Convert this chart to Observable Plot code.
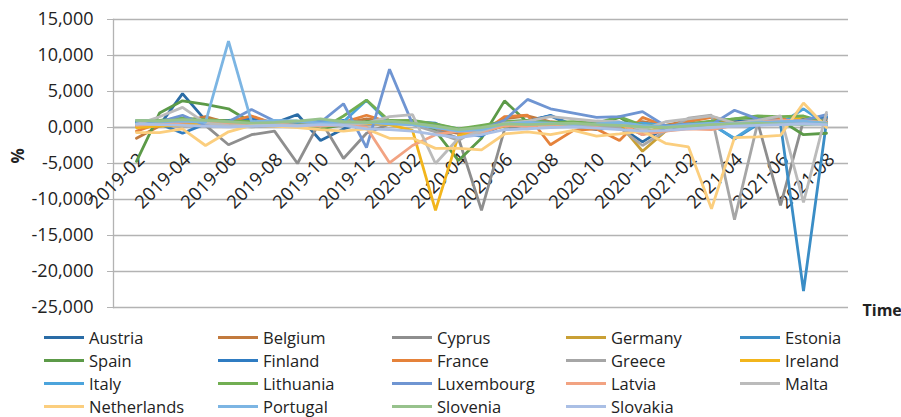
<!DOCTYPE html>
<html>
<head>
<meta charset="utf-8">
<script src="https://cdn.jsdelivr.net/npm/d3@7"></script>
<script src="https://cdn.jsdelivr.net/npm/@observablehq/plot@0.6"></script>
<style>
  html, body { margin: 0; padding: 0; background: #fff; }
  #wrap { position: relative; width: 901px; height: 417px; overflow: hidden; font-family: "Open Sans", sans-serif; }
  #legend { position: absolute; left: 44px; top: 326px; display: grid; grid-template-columns: repeat(5, 174px); grid-auto-rows: 23px; }
  .item { display: flex; align-items: center; font-size: 16.5px; color: #222; white-space: nowrap; }
  .sw { width: 40px; height: 3px; margin-right: 5px; flex: none; }
</style>
</head>
<body>
<div id="wrap"><div id="chart"></div><div id="legend"></div></div>
<script>
const months = ["2019-02","2019-03","2019-04","2019-05","2019-06","2019-07","2019-08","2019-09","2019-10","2019-11","2019-12",
  "2020-01","2020-02","2020-03","2020-04","2020-05","2020-06","2020-07","2020-08","2020-09","2020-10","2020-11","2020-12",
  "2021-01","2021-02","2021-03","2021-04","2021-05","2021-06","2021-07","2021-08"];
const tickLabels = months.filter((m, i) => i % 2 === 0);
const yTicks = [-25, -20, -15, -10, -5, 0, 5, 10, 15];

const countries = ["Austria","Belgium","Cyprus","Germany","Estonia","Spain","Finland","France","Greece","Ireland",
  "Italy","Lithuania","Luxembourg","Latvia","Malta","Netherlands","Portugal","Slovenia","Slovakia"];
const colors = ["#2A6CA6","#C27A3E","#8E8E8E","#C9A035","#3A8DC6","#5C9A48","#2F7CC2","#E5823A","#A6A6A6","#F2B51C",
  "#4CA4DC","#71AE52","#6F95D2","#F2A382","#BBBBBB","#FBCE7E","#7CB5E3","#97C28C","#AABFE5"];

const austria     = [0.6, 0.3, 4.7, 1.0, 1.0, 0.8, 0.6, 1.8, -1.8, -0.2, 0.8, 0.5, 0.9, 0.3, -0.6, -0.9, 0.4, 1.0, 1.6, 0.2, -0.3, 0.1, -2.0, 0.0, 0.3, 0.5, 0.8, 1.0, 0.9, 1.2, 1.3];
const belgium     = [-1.5, 0.2, 0.8, 1.5, 0.6, 1.5, 0.5, 0.3, 0.4, 0.6, 1.2, 0.8, 1.0, -0.3, -0.8, -0.6, 1.2, 1.6, 0.8, 0.5, 0.4, 0.2, 0.8, 0.3, 1.0, 1.5, 0.6, 0.9, 0.8, 1.0, 0.8];
const cyprus      = [0.2, 0.4, 0.5, 0.3, -2.4, -1.0, -0.5, -5.0, 1.0, -4.3, -0.8, 0.5, 0.6, -0.3, -1.5, -11.5, -0.3, 0.5, 0.4, 0.3, 0.2, 0.5, -1.0, 0.3, 0.4, 0.6, 0.5, 0.8, -10.8, 1.0, 1.2];
const germany     = [0.3, 0.5, 0.4, 0.6, 0.7, 0.5, 0.4, 0.6, 0.5, 0.4, 0.8, 0.9, 0.7, 0.2, -0.5, -0.6, 0.2, 0.5, 0.3, 0.4, 0.2, 0.5, -3.3, -0.5, 0.2, 0.4, 0.3, 0.5, 0.6, 0.8, 0.6];
const estonia     = [0.9, 0.7, 0.8, 1.0, 0.8, 0.6, 0.7, 0.8, 0.6, 0.5, 0.7, 0.6, 0.5, 0.2, -0.3, -0.5, 0.4, 0.6, 0.5, 0.3, 0.4, 0.6, 0.2, 0.1, 0.3, 0.5, -1.6, 0.4, 0.5, -22.7, 0.8];
const spain       = [-4.7, 2.0, 3.7, 3.2, 2.6, 0.7, 0.5, 0.3, -0.2, 0.4, 0.8, 1.0, 0.8, -0.5, -4.6, -1.5, 3.7, 0.7, 0.5, 0.6, 0.4, 1.4, -0.5, -0.3, 0.5, 0.8, 1.2, 1.4, 1.0, -1.0, -0.8];
const finland     = [0.7, 0.5, -0.8, 0.5, 1.0, 1.2, 0.6, 0.4, 0.5, 1.0, 0.5, 0.7, 0.8, 0.6, -0.8, -1.2, 0.6, 0.8, 1.7, 0.3, 0.1, 0.5, -0.8, -0.2, 0.3, 0.6, 0.4, 0.8, 1.0, 1.1, 1.5];
const france      = [-0.5, 0.6, 0.9, 1.2, 0.8, 1.6, 0.5, 0.6, 0.5, 0.7, 1.7, 0.7, 0.9, 0.0, -0.7, -0.8, 1.5, 1.7, -2.4, -0.4, -0.2, -1.8, 1.4, 0.2, 0.8, 1.4, 0.4, 0.8, 1.2, 0.9, 0.7];
const greece      = [0.1, 0.3, 0.2, 0.4, 0.3, 0.1, 0.2, 0.3, 0.2, 0.4, 0.3, 0.5, 0.4, -0.6, -1.8, 0.2, 0.5, 0.6, 0.4, 0.3, 0.2, 0.0, -2.5, -0.5, 1.3, 1.7, -12.8, 0.5, 0.6, 0.8, 0.6];
const ireland     = [0.0, 0.2, 0.3, 0.5, 0.4, 0.6, 0.5, 0.3, 0.4, 0.5, 0.6, 0.4, -0.4, -11.5, -1.1, -0.5, 0.3, 0.4, 0.5, 0.3, 0.6, 0.4, -0.8, 0.2, 0.3, 0.5, 0.4, 0.6, 0.7, 1.5, 0.5];
const italy       = [0.8, 0.9, 1.0, 0.8, 0.6, 0.5, 0.7, 0.6, 0.9, 0.8, 3.8, 0.6, 0.9, 0.4, -0.2, -0.6, 0.8, 0.9, 0.7, 0.6, 0.5, 0.4, 0.6, 0.3, 0.2, 0.4, -1.5, 0.6, 0.5, 2.6, 0.4];
const lithuania   = [0.9, 1.0, 1.3, 1.1, 0.9, 0.8, 0.7, 0.8, -0.3, 1.6, 3.8, 0.9, 1.0, 0.5, -0.2, 0.3, 0.8, 1.0, 0.7, 0.8, 0.6, 1.5, 0.3, 0.2, 0.5, 0.9, 1.2, 1.6, 1.5, 1.6, 0.7];
const luxembourg  = [0.5, 0.8, 1.7, 0.3, 0.8, 2.5, 0.9, 0.8, 0.7, 3.3, -2.8, 8.1, 0.5, 0.2, -0.4, -0.3, 1.0, 3.9, 2.6, 2.0, 1.4, 1.5, 2.2, 0.2, 0.5, 0.4, 2.4, 1.2, 1.0, 1.0, 1.8];
const latvia      = [0.3, 0.5, 0.7, 0.9, 0.6, 0.4, 0.5, 0.3, 0.2, 0.4, 0.0, -4.9, -2.5, -1.0, -0.5, -0.7, 0.3, 0.2, 0.4, 0.5, 0.3, 0.6, -1.0, -0.5, -0.2, -0.3, 0.3, 0.8, 1.0, 0.9, 0.7];
const malta       = [0.4, 1.5, 2.8, 0.6, 0.3, 0.2, 0.4, 0.3, 0.5, 0.4, 0.6, 1.5, 1.8, -5.0, -1.5, -0.5, 0.6, 0.9, 1.5, 1.2, 0.9, 0.8, -0.3, 0.8, 1.2, 1.6, 0.6, 1.0, 1.6, -10.4, 2.1];
const netherlands = [-0.7, -0.7, -0.2, -2.5, -0.6, 0.3, 0.2, 0.0, -0.3, -0.5, -0.2, -1.5, -1.5, -2.9, -2.9, -3.1, -0.9, -0.6, -1.0, -0.4, -1.2, -0.9, -0.5, -2.2, -2.7, -11.3, -1.4, -1.3, -1.1, 3.4, 0.0];
const portugal    = [1.0, 0.8, 0.9, 0.7, 12.0, 0.8, 1.0, 0.9, 0.6, 0.8, 0.7, 0.5, 0.4, 0.0, -0.5, -0.3, 0.5, 0.7, 0.6, 0.4, 0.5, 0.7, 0.3, 0.1, 0.4, 0.6, 0.5, 0.7, 0.8, 0.9, 0.6];
const slovenia    = [1.0, 0.9, 1.1, 1.0, 0.8, 0.6, 0.7, 0.9, 1.2, 0.8, 0.7, 0.9, 0.6, 0.2, -0.3, 0.0, 0.5, 0.4, 0.5, 0.6, 0.4, 0.3, 0.1, 0.0, 0.2, 0.4, 0.5, 0.6, 0.5, 0.4, 0.5];
const slovakia    = [0.5, 0.4, 0.3, 0.2, 0.1, 0.2, 0.3, 0.2, 0.4, 0.3, -0.2, -0.3, -0.5, -1.0, -1.4, -1.0, -0.3, -0.2, 0.0, 0.1, -0.1, -0.3, -0.5, -0.4, -0.2, 0.0, 0.2, 0.3, 0.4, 0.5, 0.4];

const series = [austria, belgium, cyprus, germany, estonia, spain, finland, france, greece, ireland,
  italy, lithuania, luxembourg, latvia, malta, netherlands, portugal, slovenia, slovakia];

const data = [];
countries.forEach((c, k) => series[k].forEach((v, i) => data.push({country: c, month: months[i], value: v})));

const fmt = d => d.toFixed(3).replace(".", ",");
const grid = "#B3B3B3";

const chart = Plot.plot({
  width: 901,
  height: 325,
  marginLeft: 113,
  marginRight: 53,
  marginTop: 19,
  marginBottom: 18,
  style: {fontFamily: "Open Sans, sans-serif", fontSize: "18px", color: "#222", background: "#fff"},
  x: {type: "point", domain: months, padding: 0.5, axis: null},
  y: {domain: [-25, 15], ticks: yTicks, label: null},
  color: {domain: countries, range: colors},
  marks: [
    Plot.gridY(yTicks, {stroke: grid, strokeOpacity: 1, strokeWidth: 1.3}),
    Plot.axisY(yTicks, {tickFormat: fmt, tickSize: 6, tickPadding: 14, stroke: grid, strokeOpacity: 1, fontSize: 18, label: null, fill: "#222"}),
    Plot.frame({anchor: "left", stroke: grid, strokeWidth: 1.3}),
    Plot.ruleY([0], {stroke: grid, strokeWidth: 1.3}),
    Plot.text(tickLabels, {x: d => d, y: () => 0, text: d => d, rotate: -45, textAnchor: "end", lineAnchor: "middle", dx: 5, dy: 29, fontSize: 18.5, fill: "#222"}),
    Plot.line(data, {x: "month", y: "value", z: "country", stroke: "country", strokeWidth: 2.8, strokeLinejoin: "miter"}),
    Plot.text(["%"], {frameAnchor: "left", dx: -95, rotate: -90, fontSize: 17, fontWeight: "bold", fill: "#222"}),
    Plot.text(["Time"], {frameAnchor: "bottom-right", textAnchor: "start", dx: 14, dy: 8, fontSize: 16, fontWeight: "bold", fill: "#222"})
  ]
});
document.getElementById("chart").appendChild(chart);

const legend = document.getElementById("legend");
countries.forEach((c, k) => {
  const it = document.createElement("div");
  it.className = "item";
  const sw = document.createElement("span");
  sw.className = "sw";
  sw.style.background = colors[k];
  it.appendChild(sw);
  it.appendChild(document.createTextNode(c));
  legend.appendChild(it);
});
</script>
</body>
</html>
